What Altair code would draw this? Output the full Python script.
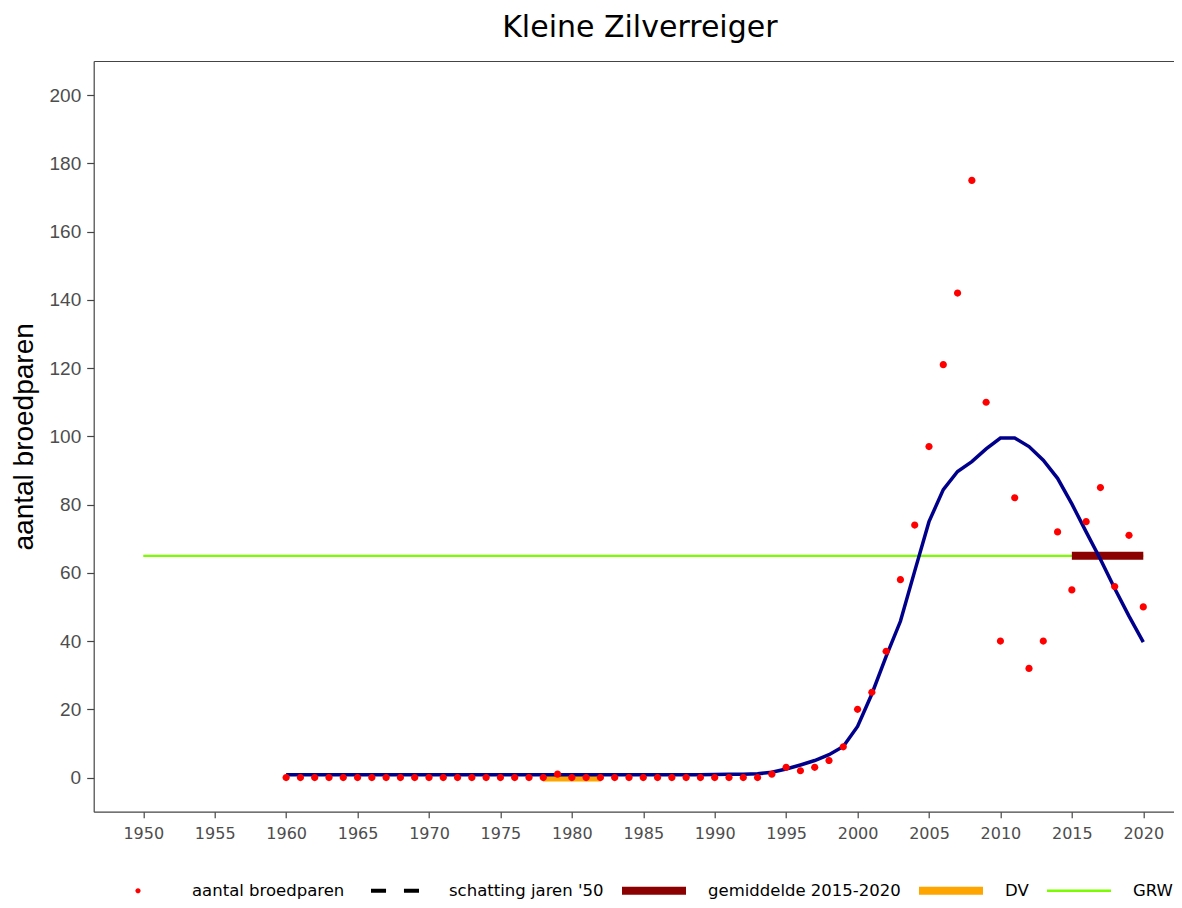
import altair as alt
import pandas as pd

# ---------------- data ----------------
years = list(range(1960, 2021))

counts = [0, 0, 0, 0, 0, 0, 0, 0, 0, 0,          # 1960-1969
          0, 0, 0, 0, 0, 0, 0, 0, 0, 1,          # 1970-1979
          0, 0, 0, 0, 0, 0, 0, 0, 0, 0,          # 1980-1989
          0, 0, 0, 0, 1, 3, 2, 3, 5, 9,          # 1990-1999
          20, 25, 37, 58, 74, 97, 121, 142, 175, 110,  # 2000-2009
          40, 82, 32, 40, 72, 55, 75, 85, 56, 71,      # 2010-2019
          50]                                          # 2020

trend = [0.8, 0.8, 0.8, 0.8, 0.8, 0.8, 0.8, 0.8, 0.8, 0.8,
         0.8, 0.8, 0.8, 0.8, 0.8, 0.8, 0.8, 0.8, 0.8, 0.8,
         0.8, 0.8, 0.8, 0.8, 0.8, 0.8, 0.8, 0.8, 0.8, 0.85,
         0.9, 0.95, 1.0, 1.1, 1.55, 2.5, 3.7, 5.0, 6.7, 9.1,
         15.0, 24.5, 35.5, 45.8, 60.5, 75.0, 84.4, 89.7, 92.6, 96.3,
         99.5, 99.5, 97.0, 93.0, 87.7, 80.2, 72.0, 64.0, 55.4, 47.3,
         39.7]

grw_start, grw_end, grw_value = [1950], [2020], [65]
gem_start, gem_end, gem_value = [2015], [2020], [65]
dv_start, dv_end, dv_value = [1978], [1982], [0]

legend_labels = ["aantal broedparen", "schatting jaren '50",
                 "gemiddelde 2015-2020", "DV", "GRW"]
legend_colors = ["#FF0000", "#000000", "#8B0000", "#FFA500", "#7CFC00"]
legend_shapes = [
    "M-0.081,0A0.081,0.081,0,1,0,0.081,0A0.081,0.081,0,1,0,-0.081,0Z",
    "M-0.75,-0.065H-0.28V0.065H-0.75Z M0.28,-0.065H0.75V0.065H0.28Z",
    "M-1,-0.125H1V0.125H-1Z",
    "M-1,-0.125H1V0.125H-1Z",
    "M-1,-0.04H1V0.04H-1Z",
]

x_ticks = list(range(1950, 2021, 5))
y_ticks = list(range(0, 201, 20))

# ---------------- tables ----------------
pts = pd.DataFrame({"year": years, "value": counts, "series": legend_labels[0]})
trd = pd.DataFrame({"year": years, "value": trend})
grw = pd.DataFrame({"start": grw_start, "end": grw_end, "value": grw_value})
gem = pd.DataFrame({"start": gem_start, "end": gem_end, "value": gem_value})
dv = pd.DataFrame({"start": dv_start, "end": dv_end, "value": dv_value})

W, H = 1080.3, 750.7
xscale = alt.Scale(domain=[1946.53, 2022.15], nice=False, zero=False)
yscale = alt.Scale(domain=[-10, 210], nice=False, zero=False)

AX_COL = "#4D4D4D"
LINE_COL = "#444444"

yaxis = alt.Axis(values=y_ticks, title="aantal broedparen", grid=False,
                 labelFont="Liberation Sans", labelFontSize=19, labelColor=AX_COL,
                 labelPadding=6, tickSize=7, tickColor=LINE_COL, tickWidth=1.2,
                 domainColor=LINE_COL, domainWidth=1.2,
                 titleFont="Liberation Sans", titleFontSize=28, titleFontWeight="normal",
                 titleColor="black", titlePadding=10)

xaxis = alt.Axis(values=x_ticks, format="d", title=None, grid=False,
                 labelFont="DejaVu Sans", labelFontSize=16, labelColor=AX_COL,
                 labelPadding=8, tickSize=6, tickColor=LINE_COL, tickWidth=1.2,
                 domainColor=LINE_COL, domainWidth=1.2, labelFlush=False)

topaxis = alt.Axis(orient="top", labels=False, ticks=False, title=None, grid=False,
                   domain=True, domainColor=LINE_COL, domainWidth=1.2,
                   minExtent=0, maxExtent=0)

Y = alt.Y("value:Q", scale=yscale, axis=yaxis)

grw_layer = alt.Chart(grw).mark_rule(color="#7CFC00", strokeWidth=2.3).encode(
    x=alt.X("start:Q", scale=xscale, axis=None), x2="end:Q", y=Y)

gem_layer = alt.Chart(gem).mark_rule(color="#8B0000", strokeWidth=8).encode(
    x=alt.X("start:Q", scale=xscale, axis=None), x2="end:Q", y=Y)

dv_layer = alt.Chart(dv).mark_rule(color="#FFA500", strokeWidth=8).encode(
    x=alt.X("start:Q", scale=xscale, axis=None), x2="end:Q", y=Y)

trend_layer = alt.Chart(trd).mark_line(color="#00008B", strokeWidth=3.5).encode(
    x=alt.X("year:Q", scale=xscale, axis=None), y=Y)

legend = alt.Legend(orient="none", legendX=12.3, legendY=797.5, direction="horizontal",
                    title=None, symbolSize=4096, symbolStrokeWidth=0,
                    labelFont="DejaVu Sans", labelFontSize=16.5, labelColor="black",
                    labelOffset=22, columnPadding=18, labelLimit=400, padding=0)

pts_layer = alt.Chart(pts).mark_point(filled=True, opacity=1, size=7900).encode(
    x=alt.X("year:Q", scale=xscale, axis=xaxis), y=Y,
    color=alt.Color("series:N", scale=alt.Scale(domain=legend_labels, range=legend_colors),
                    legend=legend),
    shape=alt.Shape("series:N", scale=alt.Scale(domain=legend_labels, range=legend_shapes),
                    legend=legend))

top_layer = alt.Chart(grw).mark_rule(opacity=0).encode(
    x=alt.X("start:Q", scale=xscale, axis=topaxis), x2="end:Q", y=Y)

chart = alt.layer(grw_layer, gem_layer, dv_layer, trend_layer, pts_layer, top_layer).resolve_axis(
    x="independent"
).properties(
    width=W, height=H,
    autosize=alt.AutoSizeParams(type="none"),
    padding={"left": 85.7, "top": 53, "right": 0, "bottom": 88.3},
    title=alt.TitleParams("Kleine Zilverreiger", font="DejaVu Sans", fontSize=30,
                          fontWeight="normal", color="black", anchor="middle",
                          frame="group", baseline="alphabetic", offset=-6.3, dx=6),
).configure_view(stroke=None)

chart.save("out.html", embed_options={"renderer": "svg", "actions": False})
